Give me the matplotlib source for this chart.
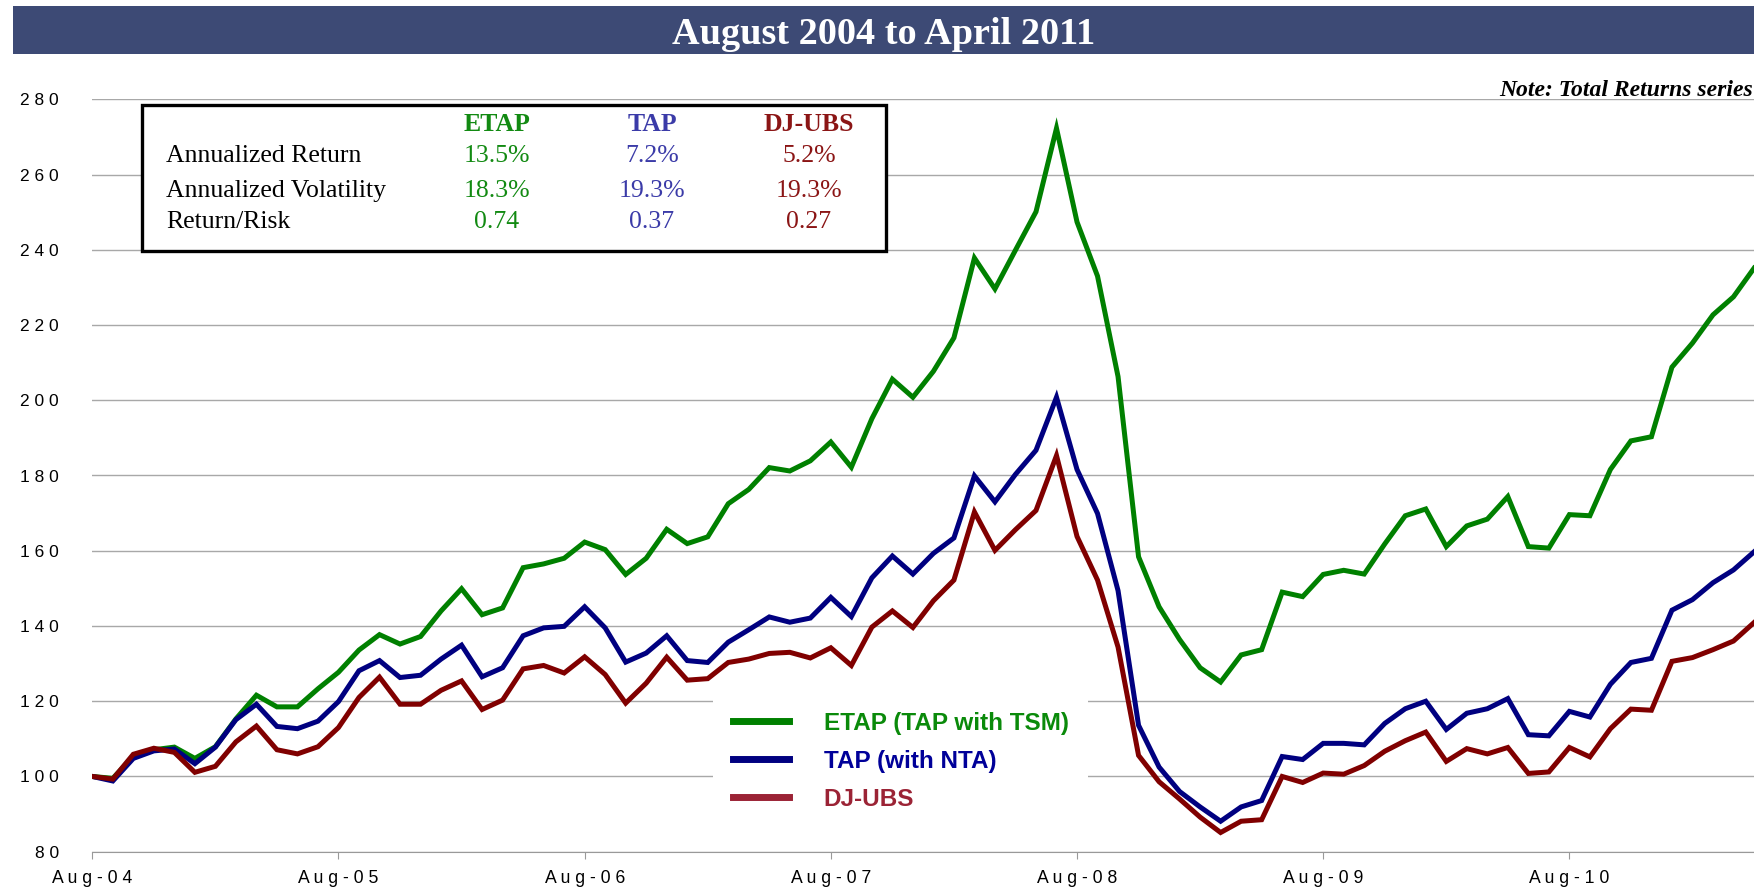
import numpy as np
import pandas as pd
import matplotlib
matplotlib.use("Agg")
import matplotlib.pyplot as plt
from matplotlib.patches import Rectangle
from matplotlib.lines import Line2D

# ================= DATA (index, Aug-2004 = 100) =================
etap = [100, 99.5, 105.3, 107.1, 107.8, 104.8, 107.9, 115.3, 121.6, 118.5,
        118.5, 123.3, 127.7, 133.6, 137.7, 135.2, 137.2, 144.0, 149.9, 143.0,
        144.8, 155.5, 156.5, 158.0, 162.3, 160.3, 153.7, 158.0, 165.7, 161.9,
        163.7, 172.5, 176.3, 182.1, 181.2, 183.9, 188.9, 182.2, 195.1, 205.6,
        200.8, 207.7, 216.6, 237.8, 229.6, 239.9, 250.1, 272.3, 247.4, 233.0,
        206.3, 158.4, 145.1, 136.4, 128.9, 125.1, 132.3, 133.7, 149.0, 147.8,
        153.7, 154.8, 153.8, 161.8, 169.3, 171.1, 161.1, 166.6, 168.4, 174.4,
        161.1, 160.7, 169.6, 169.3, 181.6, 189.2, 190.3, 208.8, 215.2, 222.7,
        227.5, 235.1]
tap = [100, 98.8, 104.8, 106.8, 107.3, 103.4, 107.8, 115.1, 119.2, 113.3,
       112.7, 114.7, 119.9, 128.1, 130.8, 126.3, 126.9, 131.2, 134.9, 126.5,
       128.9, 137.4, 139.5, 139.9, 145.1, 139.5, 130.4, 132.8, 137.4, 130.8,
       130.3, 135.7, 139.0, 142.4, 141.0, 142.1, 147.6, 142.5, 152.8, 158.6,
       153.8, 159.3, 163.4, 179.9, 173.0, 180.3, 186.7, 200.8, 181.6, 169.9,
       149.4, 113.6, 102.5, 96.0, 91.9, 88.1, 91.9, 93.6, 105.3, 104.5,
       108.8, 108.8, 108.4, 114.1, 118.0, 120.0, 112.5, 116.8, 118.0, 120.7,
       111.1, 110.8, 117.3, 115.8, 124.5, 130.3, 131.4, 144.2, 147.0, 151.5,
       154.9, 159.7]
djubs = [100, 99.3, 105.9, 107.5, 106.4, 101.1, 102.7, 109.2, 113.4, 107.1,
         106.0, 107.9, 113.0, 121.0, 126.4, 119.2, 119.2, 122.9, 125.4, 117.8,
         120.3, 128.6, 129.5, 127.5, 131.8, 127.1, 119.5, 124.8, 131.7, 125.6,
         126.0, 130.3, 131.2, 132.7, 133.0, 131.5, 134.2, 129.5, 139.7, 144.0,
         139.6, 146.7, 152.2, 170.3, 160.1, 165.6, 170.7, 185.3, 163.8, 152.2,
         134.4, 105.6, 98.6, 94.0, 89.2, 85.1, 88.1, 88.5, 100.0, 98.4,
         100.9, 100.6, 102.9, 106.7, 109.5, 111.8, 104.0, 107.4, 106.0, 107.7,
         100.8, 101.2, 107.7, 105.2, 112.7, 117.9, 117.6, 130.6, 131.6, 133.7,
         136.0, 140.9]

series_names = ["ETAP (TAP with TSM)", "TAP (with NTA)", "DJ-UBS"]
table_cols = ["ETAP", "TAP", "DJ-UBS"]
table_rows = ["Annualized Return", "Annualized Volatility", "Return/Risk"]
table_vals = [["13.5%", "7.2%", "5.2%"],
              ["18.3%", "19.3%", "19.3%"],
              ["0.74", "0.37", "0.27"]]
y_ticks = [80, 100, 120, 140, 160, 180, 200, 220, 240, 260, 280]

# ================= STYLE =================
W, H = 1754, 888
LINE_COLORS = ["#008000", "#000080", "#800000"]
LEGEND_LINE = ["#008000", "#000080", "#9B2335"]
LEGEND_TEXT = ["#0A8A0A", "#000099", "#9B2335"]
TABLE_COLORS = ["#128A12", "#3B3BA8", "#8B1515"]
BAR_COLOR = "#3D4A75"
GRID = "#A8A8A8"
SERIF = "Liberation Serif"
SANS = "Liberation Sans"


def spaced(s):
    return " ".join(s)


def fx(x):
    return x / W


def fy(y):
    return 1 - y / H


dates = pd.date_range("2004-08-01", periods=len(etap), freq="MS")
x = np.arange(len(dates))

fig = plt.figure(figsize=(W / 100, H / 100), dpi=100, facecolor="white")

# title banner
fig.add_artist(Rectangle((fx(13), fy(54.3)), fx(W - 13), 48.3 / H,
                         transform=fig.transFigure, facecolor=BAR_COLOR,
                         edgecolor="none", zorder=1))
fig.text(fx(884), fy(44), "August 2004 to April 2011", ha="center", va="baseline",
         fontsize=27.5, fontweight="bold", color="white", family=SERIF)

ax = fig.add_axes([fx(92.3), fy(851.7), 1 - fx(92.3), (851.7 - 99.3) / H])
for vals, c in zip([etap, tap, djubs], LINE_COLORS):
    ax.plot(x, vals, color=c, lw=3.6, solid_joinstyle="miter", zorder=3)

ax.set_xlim(0, len(x) - 1)
ax.set_ylim(80, 280)
ax.set_yticks(y_ticks)
ax.set_yticklabels([spaced(str(v)) for v in y_ticks], family=SANS, fontsize=12.5)
aug = [i for i, d in enumerate(dates) if d.month == 8]
ax.set_xticks(aug)
ax.set_xticklabels([spaced(dates[i].strftime("%b-%y")) for i in aug],
                   family=SANS, fontsize=12.7)
ax.tick_params(axis="y", length=0, pad=24)
ax.tick_params(axis="x", length=5, color="#999999", pad=8)
ax.yaxis.grid(True, color=GRID, lw=1)
ax.set_axisbelow(True)
for s in ["top", "right", "left"]:
    ax.spines[s].set_visible(False)
ax.spines["bottom"].set_color("#999999")

handles = [Line2D([], [], color=c, lw=5) for c in LEGEND_LINE]
leg = ax.legend(handles, series_names, loc="upper left",
                bbox_to_anchor=(fx(701), fy(680)), bbox_transform=fig.transFigure,
                prop={"family": SANS, "weight": "bold", "size": 17.5},
                labelcolor=LEGEND_TEXT, frameon=True, fancybox=False,
                facecolor="white", edgecolor="none", framealpha=1,
                handlelength=2.3, handletextpad=1.44, labelspacing=0.62,
                borderpad=0.8)
leg.set_zorder(5)

# statistics box
fig.add_artist(Rectangle((fx(142), fy(251)), fx(886 - 142), (251 - 105) / H,
                         transform=fig.transFigure, facecolor="white",
                         edgecolor="black", lw=2.4, zorder=6))
col_x = [497, 652, 809]
for cx, name, c in zip(col_x, table_cols, TABLE_COLORS):
    fig.text(fx(cx), fy(131), name, ha="center", va="baseline", fontsize=18.5,
             fontweight="bold", color=c, family=SERIF, zorder=7)
row_y = [161.7, 197, 228]
for ry, label, vals in zip(row_y, table_rows, table_vals):
    fig.text(fx(166), fy(ry), label, ha="left", va="baseline", fontsize=18.5,
             color="black", family=SERIF, zorder=7)
    for cx, v, c in zip(col_x, vals, TABLE_COLORS):
        fig.text(fx(cx), fy(ry), v, ha="center", va="baseline", fontsize=18.5,
                 color=c, family=SERIF, zorder=7)

fig.text(fx(1753), fy(96), "Note: Total Returns series", ha="right", va="baseline",
         fontsize=17, fontweight="bold", fontstyle="italic", family=SERIF)

fig.savefig("out.png", dpi=100, facecolor="white")
